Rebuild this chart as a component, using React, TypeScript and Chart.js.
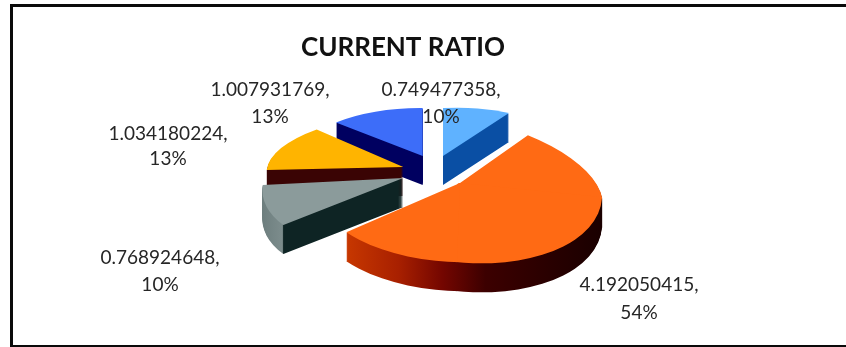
import { useEffect, useRef } from "react";
import { Chart, registerables } from "chart.js";

Chart.register(...registerables);

const TITLE = "CURRENT RATIO";
const ratios = [0.749477358, 4.192050415, 0.768924648, 1.034180224, 1.007931769];
const percents = [10, 54, 10, 13, 13];
const topColors = ["#5fb2ff", "#ff6a14", "#8b9b9b", "#ffb400", "#3d6df9"];

// Wall colours per slice, as [fraction across the slice's local width, colour].
const wallStops: [number, string][][] = [
  [[0, "#0a4fa4"], [1, "#0a4fa4"]],
  [[0, "#d03c00"], [0.115, "#c83800"], [0.3, "#a82000"], [0.45, "#740600"], [0.6, "#3c0000"], [1, "#1a0000"]],
  [[0, "#6b7c7c"], [0.115, "#7c8c8c"], [0.12, "#0e2424"], [1, "#0e2424"]],
  [[0, "#3a0404"], [1, "#3a0404"]],
  [[0, "#000060"], [1, "#000060"]],
];

// Tilted projection of each slice: shift from the pie's centre, then
// local-x and local-y axes in pixels, per quadrant patch of the local circle.
type Patch = { clip: [number, number, number, number]; axes: [number, number, number, number] };
type View = { shift: [number, number]; patches: Patch[] };
const WHOLE: [number, number, number, number] = [-1.1, -1.1, 2.2, 2.2];
const views: View[] = [
  { shift: [40, -53], patches: [{ clip: WHOLE, axes: [115.6, -6.3, 0, 48] }] },
  {
    shift: [57, -26],
    patches: [
      { clip: [-0.02, -1.1, 1.12, 1.12], axes: [142, 14, 16, 68] },
      { clip: [-0.02, 0, 1.12, 1.1], axes: [142, 14, -3, 79] },
      { clip: [-1.1, 0, 1.1, 1.1], axes: [147, 3, -3, 79] },
    ],
  },
  { shift: [0.3, -31], patches: [{ clip: WHOLE, axes: [139.3, -1, -21.6, 71] }] },
  { shift: [0.3, -42], patches: [{ clip: WHOLE, axes: [135.6, 1.5, -17.9, 53.5] }] },
  { shift: [19.7, -53], patches: [{ clip: WHOLE, axes: [119, 1, 0, 48] }] },
];
const paintOrder = [0, 4, 3, 2, 1];
const DEPTH = 29;

// Text block centres for the value / percent labels.
const labelBoxes: [number, number, number][] = [
  [441, 90, 117],
  [639, 285, 313],
  [160, 258, 285],
  [168, 134, 159],
  [270, 90, 117],
];

const tiltedPie = {
  id: "tiltedPie",
  beforeDatasetsDraw(chart: any) {
    const { ctx } = chart;
    const arcs = chart.getDatasetMeta(0).data;
    const paint = (i: number, dy: number, fill: (r: number, cx: number) => any) => {
      const arc = arcs[i];
      const view = views[i];
      const R = arc.outerRadius;
      for (const p of view.patches) {
        ctx.save();
        ctx.translate(arc.x + view.shift[0], arc.y + view.shift[1] + dy);
        ctx.transform(p.axes[0] / R, p.axes[1] / R, p.axes[2] / R, p.axes[3] / R, 0, 0);
        ctx.translate(-arc.x, -arc.y);
        ctx.beginPath();
        ctx.rect(arc.x + p.clip[0] * R, arc.y + p.clip[1] * R, p.clip[2] * R, p.clip[3] * R);
        ctx.clip();
        const saved = arc.options;
        arc.options = Object.assign(Object.create(saved), {
          backgroundColor: fill(R, arc.x),
        });
        arc.draw(ctx);
        arc.options = saved;
        ctx.restore();
      }
    };
    for (const i of paintOrder) {
      const wall = (R: number, cx: number) => {
        const g = ctx.createLinearGradient(cx - R, 0, cx + R, 0);
        wallStops[i].forEach(([at, colour]) => g.addColorStop(at, colour));
        return g;
      };
      for (let dy = DEPTH; dy >= 1; dy--) paint(i, dy, wall);
      paint(i, 0, () => topColors[i]);
    }
    return false;
  },
  afterDraw(chart: any) {
    const { ctx } = chart;
    ctx.save();
    ctx.fillStyle = "#262626";
    ctx.font = '19px "Lato"';
    ctx.textAlign = "center";
    ctx.textBaseline = "middle";
    ratios.forEach((value, i) => {
      const [x, y1, y2] = labelBoxes[i];
      ctx.fillText(`${value},`, x, y1);
      ctx.fillText(`${percents[i]}%`, x, y2);
    });
    ctx.restore();
  },
  beforeDraw(chart: any) {
    const { ctx, width, height } = chart;
    ctx.save();
    ctx.fillStyle = "#ffffff";
    ctx.fillRect(0, 0, width, height);
    ctx.fillStyle = "#0a0a0a";
    ctx.fillRect(10, 4, width - 10, 3);
    ctx.fillRect(10, 4, 3, height - 4);
    ctx.fillRect(10, height - 2, width - 10, 2);
    ctx.restore();
  },
};

export default function App() {
  const ref = useRef<HTMLCanvasElement>(null);
  useEffect(() => {
    const chart = new Chart(ref.current!, {
      type: "pie",
      data: {
        labels: ratios.map(String),
        datasets: [{ data: ratios, backgroundColor: topColors, borderWidth: 0 }],
      },
      options: {
        animation: false,
        responsive: false,
        layout: { padding: { right: 40 } },
        plugins: {
          legend: { display: false },
          tooltip: { enabled: false },
          title: {
            display: true,
            text: TITLE,
            color: "#111111",
            font: { family: "Lato", size: 26, weight: "bold" },
            padding: { top: 32, bottom: 8 },
          },
        },
      },
      plugins: [tiltedPie],
    } as any);
    return () => chart.destroy();
  }, []);
  return (
    <div style={{ position: "fixed", left: 0, top: 0, width: 846, height: 347, background: "#fff" }}>
      <canvas ref={ref} width={846} height={347} style={{ display: "block" }} />
    </div>
  );
}
